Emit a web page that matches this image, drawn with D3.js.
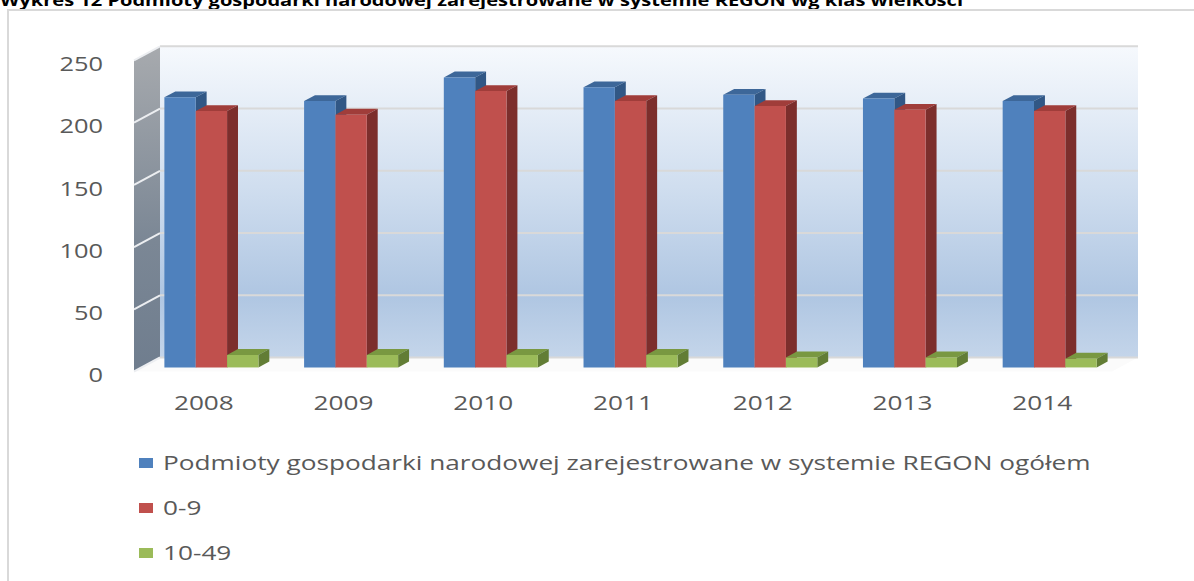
<!DOCTYPE html>
<html>
<head>
<meta charset="utf-8">
<script src="https://cdn.jsdelivr.net/npm/d3@7"></script>
<style>
  body { margin: 0; background: #ffffff; overflow: hidden; }
  text { font-family: "Open Sans", "DejaVu Sans", sans-serif; }
</style>
</head>
<body>
<div id="chart"></div>
<script>
  // Data
  var years = ["2008", "2009", "2010", "2011", "2012", "2013", "2014"];
  var seriesNames = [
    "Podmioty gospodarki narodowej zarejestrowane w systemie REGON ogółem",
    "0-9",
    "10-49"
  ];
  var ogolem = [217, 214, 233, 225, 219, 216, 214];
  var klasa0_9 = [206, 203, 222, 214, 210, 207, 206];
  var klasa10_49 = [10, 10, 10, 10, 8, 8, 7];
  var yTicks = [0, 50, 100, 150, 200, 250];
  var titleText = "Wykres 12 Podmioty gospodarki narodowej zarejestrowane w systemie REGON wg klas wielkości";

  var seriesValues = [ogolem, klasa0_9, klasa10_49];
  // front / top / side colours per series
  var faceColors = [
    { front: "#4f81bd", top: "#3d6799", side: "#315785" },
    { front: "#c0504d", top: "#a03d3a", side: "#7c2e2c" },
    { front: "#9bbb59", top: "#799841", side: "#627d35" }
  ];

  var width = 1194, height = 581;
  var textColor = "#595959";

  var svg = d3.select("#chart").append("svg")
              .attr("width", width)
              .attr("height", height);

  // Oblique 3D: depth 0 = back wall, depth 1 = front edge
  var depthDx = -26, depthDy = 14;
  function proj(x, y, d) { return [x + depthDx * d, y + depthDy * d]; }
  function poly(pts) { return pts.map(function(p) { return p[0] + "," + p[1]; }).join(" "); }

  // Scales (back wall plane)
  var xScale = d3.scaleBand().domain(years).range([160, 1138])
                 .paddingInner(0.327).paddingOuter(0.1635);
  var xSeries = d3.scaleBand().domain(d3.range(seriesNames.length)).range([0, xScale.bandwidth()]);
  var yScale = d3.scaleLinear().domain([0, 250]).range([357.5, 46.3]);

  // Gradients
  var defs = svg.append("defs");
  var wallGrad = defs.append("linearGradient").attr("id", "wallGrad")
                     .attr("x1", 0).attr("y1", 0).attr("x2", 0).attr("y2", 1);
  wallGrad.append("stop").attr("offset", "0%").attr("stop-color", "#f6f9fd");
  wallGrad.append("stop").attr("offset", "45%").attr("stop-color", "#d0deef");
  wallGrad.append("stop").attr("offset", "80%").attr("stop-color", "#afc6e2");
  wallGrad.append("stop").attr("offset", "100%").attr("stop-color", "#c4d5ea");

  var sideGrad = defs.append("linearGradient").attr("id", "sideGrad")
                     .attr("x1", 0).attr("y1", 0).attr("x2", 0).attr("y2", 1);
  sideGrad.append("stop").attr("offset", "0%").attr("stop-color", "#a7aaae");
  sideGrad.append("stop").attr("offset", "60%").attr("stop-color", "#7b8795");
  sideGrad.append("stop").attr("offset", "100%").attr("stop-color", "#6f7d8e");

  // Title (sits right at the top edge, as in the reference)
  svg.append("text")
     .attr("x", 0).attr("y", 6)
     .attr("font-size", 16).attr("font-weight", "bold")
     .attr("fill", "#000")
     .attr("textLength", 963).attr("lengthAdjust", "spacingAndGlyphs")
     .text(titleText);

  // Chart frame
  svg.append("path")
     .attr("d", "M8," + height + "V10H" + width)
     .attr("fill", "none").attr("stroke", "#d9d9d9").attr("stroke-width", 2);

  var x0 = xScale.range()[0], x1 = xScale.range()[1];
  var yTop = yScale(250), yBase = yScale(0);

  // Back wall
  svg.append("rect")
     .attr("x", x0).attr("y", yTop)
     .attr("width", x1 - x0).attr("height", yBase - yTop)
     .attr("fill", "url(#wallGrad)");

  // Side wall
  svg.append("polygon")
     .attr("points", poly([proj(x0, yTop, 0), proj(x0, yBase, 0), proj(x0, yBase, 1), proj(x0, yTop, 1)]))
     .attr("fill", "url(#sideGrad)");

  // Floor
  svg.append("polygon")
     .attr("points", poly([proj(x0, yBase, 0), proj(x1, yBase, 0), proj(x1, yBase, 1), proj(x0, yBase, 1)]))
     .attr("fill", "#fbfbfb");

  // Gridlines on back and side walls
  yTicks.forEach(function(t) {
    var y = yScale(t);
    svg.append("line")
       .attr("x1", x0).attr("x2", x1).attr("y1", y).attr("y2", y)
       .attr("stroke", "#d9d9d9").attr("stroke-width", 2);
    var a = proj(x0, y, 0), b = proj(x0, y, 1);
    svg.append("line")
       .attr("x1", a[0]).attr("y1", a[1]).attr("x2", b[0]).attr("y2", b[1])
       .attr("stroke", "#eceef1").attr("stroke-width", 2);
  });

  // Bars: drawn left to right so the right neighbour hides the side face
  var dFront = 0.71, dBack = 0.29;
  var bars = svg.append("g");
  years.forEach(function(year, i) {
    seriesValues.forEach(function(values, s) {
      var bx0 = xScale(year) + xSeries(s);
      var bx1 = bx0 + xSeries.bandwidth();
      var top = yScale(values[i]);
      var c = faceColors[s];
      var g = bars.append("g");
      g.append("polygon")
       .attr("points", poly([proj(bx0, top, dFront), proj(bx1, top, dFront), proj(bx1, top, dBack), proj(bx0, top, dBack)]))
       .attr("fill", c.top);
      g.append("polygon")
       .attr("points", poly([proj(bx1, top, dFront), proj(bx1, top, dBack), proj(bx1, yBase, dBack), proj(bx1, yBase, dFront)]))
       .attr("fill", c.side);
      g.append("polygon")
       .attr("points", poly([proj(bx0, top, dFront), proj(bx1, top, dFront), proj(bx1, yBase, dFront), proj(bx0, yBase, dFront)]))
       .attr("fill", c.front);
    });
  });

  // Axes along the front edge
  var yFront = yScale.copy().range(yScale.range().map(function(v) { return v + depthDy; }));
  var xFront = xScale.copy().range(xScale.range().map(function(v) { return v + depthDx; }));

  var yAxis = svg.append("g")
     .attr("class", "ytext")
     .attr("transform", "translate(110,4)")
     .call(d3.axisLeft(yFront).tickValues(yTicks).tickSize(0).tickPadding(7));
  var xAxis = svg.append("g")
     .attr("class", "widetext")
     .attr("transform", "translate(0,396)")
     .call(d3.axisBottom(xFront).tickSize(0).tickPadding(0));

  [yAxis, xAxis].forEach(function(ax) {
    ax.select(".domain").remove();
    ax.selectAll("text")
      .attr("font-size", 20)
      .attr("font-family", "'Open Sans', sans-serif")
      .attr("fill", textColor);
  });

  // Legend
  var legend = svg.append("g").attr("class", "widetext");
  seriesNames.forEach(function(name, s) {
    var cy = 463 + s * 45;
    legend.append("rect")
          .attr("x", 139).attr("y", cy - 5)
          .attr("width", 14).attr("height", 10)
          .attr("fill", faceColors[s].front);
    legend.append("text")
          .attr("x", 163).attr("y", cy + 7)
          .attr("font-size", 20)
          .attr("fill", textColor)
          .text(name);
  });

  // Widen the text like the reference
  function widen(sel, k) {
    sel.each(function() {
      var w = this.getComputedTextLength();
      d3.select(this).attr("textLength", w * k).attr("lengthAdjust", "spacingAndGlyphs");
    });
  }
  widen(svg.selectAll(".ytext text"), 1.27);
  widen(svg.selectAll(".widetext text"), 1.31);
</script>
</body>
</html>
